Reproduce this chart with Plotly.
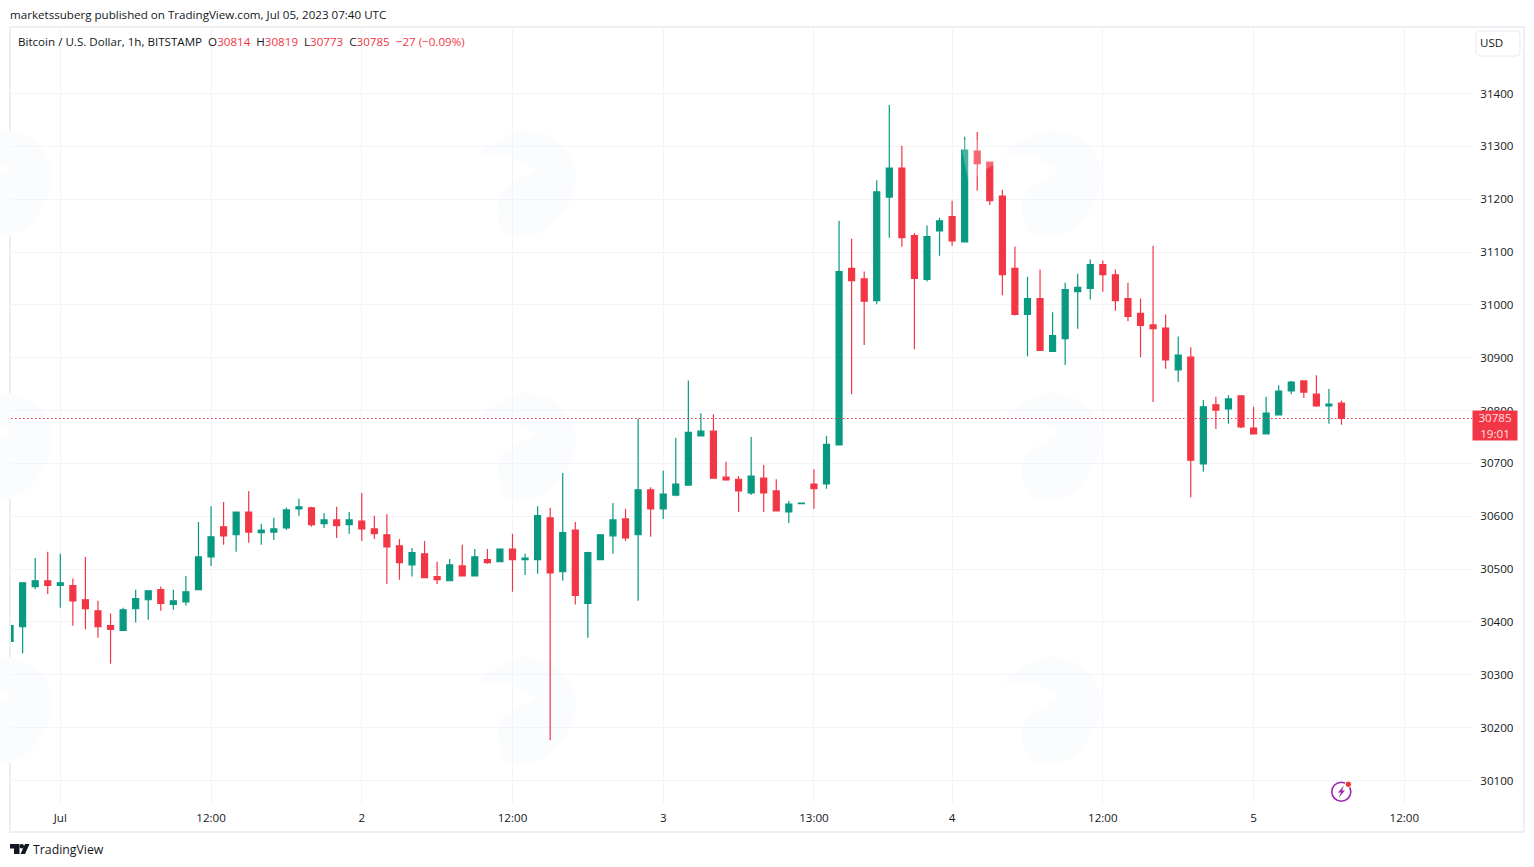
import plotly.graph_objects as go

# ---- Bars, Jul 1 00:00 is bar 0 ----
bars = list(range(-4, 103))
opens = [30363, 30391, 30467, 30478, 30469, 30469, 30442, 30421, 30393, 30384, 30425, 30442, 30461, 30433, 30438, 30461,
         30523, 30580, 30565, 30608, 30569, 30570, 30578, 30614, 30616, 30586, 30593, 30584, 30591, 30576, 30565, 30544,
         30508, 30529, 30486, 30478, 30506, 30487, 30518, 30514, 30538, 30518, 30518, 30597, 30495, 30574, 30435, 30518,
         30563, 30595, 30565, 30650, 30614, 30640, 30659, 30752, 30761, 30674, 30670, 30644, 30672, 30648, 30608, 30624,
         30661, 30661, 30735, 31069, 31049, 31008, 31204, 31259, 31131, 31048, 31140, 31167, 31119, 31291, 31270, 31206,
         31069, 30982, 31012, 30912, 30936, 31025, 31031, 31076, 31057, 31012, 30984, 30962, 30956, 30877, 30901, 30699,
         30811, 30803, 30828, 30767, 30756, 30792, 30837, 30856, 30831, 30809, 30814]
highs = [30393, 30474, 30521, 30533, 30529, 30482, 30523, 30440, 30416, 30427, 30461, 30459, 30467, 30461, 30487, 30589,
         30619, 30627, 30608, 30648, 30586, 30597, 30616, 30633, 30618, 30606, 30618, 30608, 30644, 30601, 30604, 30557,
         30540, 30553, 30514, 30519, 30546, 30538, 30538, 30538, 30567, 30529, 30619, 30616, 30682, 30589, 30533, 30565,
         30625, 30614, 30785, 30655, 30686, 30748, 30857, 30795, 30793, 30703, 30676, 30750, 30697, 30670, 30629, 30625,
         30689, 30752, 31159, 31125, 31063, 31236, 31378, 31301, 31136, 31150, 31165, 31197, 31318, 31327, 31270, 31218,
         31110, 31053, 31067, 30986, 31042, 31059, 31086, 31084, 31067, 31042, 31012, 31112, 30982, 30940, 30920, 30820,
         30826, 30829, 30829, 30807, 30826, 30848, 30856, 30856, 30867, 30841, 30819]
lows = [30363, 30341, 30462, 30453, 30427, 30393, 30386, 30370, 30321, 30384, 30399, 30404, 30421, 30423, 30431, 30461,
        30506, 30546, 30533, 30550, 30546, 30555, 30574, 30601, 30580, 30578, 30559, 30567, 30553, 30557, 30472, 30480,
        30486, 30484, 30472, 30478, 30487, 30487, 30510, 30514, 30457, 30489, 30491, 30176, 30478, 30433, 30370, 30518,
        30529, 30553, 30440, 30561, 30595, 30638, 30659, 30752, 30672, 30667, 30608, 30640, 30608, 30610, 30587, 30624,
        30614, 30652, 30735, 30831, 30924, 31001, 31127, 31110, 30916, 31044, 31093, 31112, 31119, 31216, 31189, 31018,
        30980, 30903, 30914, 30912, 30886, 30955, 31010, 31025, 30989, 30969, 30901, 30816, 30879, 30854, 30636, 30684,
        30765, 30775, 30767, 30756, 30756, 30792, 30831, 30824, 30807, 30775, 30773]
closes = [30393, 30474, 30478, 30469, 30474, 30440, 30425, 30391, 30386, 30423, 30444, 30459, 30435, 30440, 30457, 30523,
          30561, 30563, 30608, 30570, 30574, 30576, 30612, 30618, 30584, 30593, 30582, 30593, 30576, 30567, 30542, 30512,
          30531, 30484, 30480, 30508, 30487, 30523, 30512, 30538, 30518, 30521, 30601, 30493, 30569, 30450, 30531, 30565,
          30593, 30559, 30650, 30614, 30642, 30661, 30759, 30761, 30672, 30669, 30648, 30676, 30644, 30610, 30623, 30625,
          30652, 30736, 31063, 31046, 31007, 31214, 31259, 31127, 31050, 31129, 31159, 31121, 31293, 31267, 31197, 31057,
          30982, 31012, 30914, 30942, 31029, 31033, 31076, 31057, 31008, 30978, 30961, 30955, 30896, 30905, 30706, 30807,
          30801, 30822, 30769, 30756, 30795, 30837, 30854, 30835, 30809, 30812, 30785]

price_ticks = list(range(30100, 31500, 100))
time_ticks = [0, 12, 24, 36, 48, 60, 71, 83, 95, 107]
time_labels = ["Jul", "12:00", "2", "12:00", "3", "13:00", "4", "12:00", "5", "12:00"]
last_price = 30785

UP = "#089981"
DOWN = "#f23645"
GRID = "#f2f4f9"
INK = "#131722"
FONT = "Open Sans, sans-serif"
TEXT_SIZE = 11.6

W, H = 1534, 867
L, R, T, B = 11, 1472, 28, 803


def px(x):
    return (x - L) / (R - L)


def py(y):
    return (B - y) / (B - T)


def path(points):
    """Closed path from page pixels, (x, y) or ("Q", cx, cy, x, y)."""
    out = []
    for i, p in enumerate(points):
        if p[0] == "Q":
            out.append(f"Q {px(p[1]):.5f},{py(p[2]):.5f} {px(p[3]):.5f},{py(p[4]):.5f}")
        else:
            out.append(f"{'M' if i == 0 else 'L'} {px(p[0]):.5f},{py(p[1]):.5f}")
    return " ".join(out) + " Z"


def shape(d, fill, layer="below", line=None, opacity=1):
    return dict(type="path", path=d, xref="paper", yref="paper", fillcolor=fill, layer=layer, opacity=opacity,
                line=line or dict(width=0))


def rect(x0, y0, x1, y1, **kw):
    return dict(type="rect", xref="paper", yref="paper", x0=px(x0), x1=px(x1), y0=py(y0), y1=py(y1), **kw)


def circle(cx, cy, r, **kw):
    return dict(type="circle", xref="paper", yref="paper", x0=px(cx - r), x1=px(cx + r), y0=py(cy + r), y1=py(cy - r), **kw)


def note(x, y, text, size=TEXT_SIZE, color=INK, **kw):
    return dict(xref="paper", yref="paper", x=px(x), y=py(y), text=text, showarrow=False, xanchor=kw.pop("xanchor", "left"),
                yanchor="middle", font=dict(family=FONT, size=size, color=color), **kw)


def watermark(x, y):
    return path([(x + 45, y), ("Q", x + 85, y, x + 98, y + 35), ("Q", x + 105, y + 70, x + 70, y + 100),
                 ("Q", x + 40, y + 115, x + 25, y + 100), ("Q", x + 15, y + 80, x + 25, y + 60),
                 (x + 58, y + 40), (x + 30, y + 25), (x, y + 25), ("Q", x + 25, y + 5, x + 45, y)])


usd_box = [(1480, 31), (1516, 31), ("Q", 1520, 31, 1520, 35), (1520, 52), ("Q", 1520, 56, 1516, 56),
           (1480, 56), ("Q", 1476, 56, 1476, 52), (1476, 35), ("Q", 1476, 31, 1480, 31)]

shapes = [
    rect(10, 27, 1524, 832, line=dict(color="#eeeff2", width=2), layer="below"),
    shape(path(usd_box), "white", layer="above", line=dict(color="#e8eaf0", width=1)),
    # logo
    shape(path([(10, 844), (19.5, 844), (19.5, 854), (14, 854), (14, 848.5), (10, 848.5)]), INK),
    circle(21.8, 846.2, 2.2, fillcolor=INK, line=dict(width=0)),
    shape(path([(25, 844), (29.5, 844), (25, 854), (20.5, 854)]), INK),
    # bolt icon
    circle(1341.3, 791.7, 9.5, line=dict(color="#9c27b0", width=1.6), fillcolor="white", layer="above"),
    shape(path([(1344, 785.5), (1338, 792.5), (1341, 792.5), (1338.5, 798), (1345, 790.5), (1342, 790.5)]), "#9c27b0", layer="above"),
    circle(1348.3, 784.3, 3.2, line=dict(color="white", width=1), fillcolor="#e53935", layer="above"),
    # last price line
    dict(type="line", xref="paper", yref="y", x0=0, x1=1, y0=last_price, y1=last_price,
         line=dict(color=DOWN, width=1.2, dash="1.5px,2.5px")),
    # watermark washes over the candles near the top
    shape(path([(960, 140), (1000, 140), (1000, 161), (985, 170), (973, 180), (968, 180)]), "white", layer="above", opacity=0.25),
]
for wx in (-47, 477, 1002):
    for wy in (130, 393, 657):
        shapes.append(shape(watermark(wx, wy), "#fbfcfe"))

ohlc_text = (
    "Bitcoin / U.S. Dollar, 1h, BITSTAMP&nbsp;&nbsp;"
    f"O<span style='color:{DOWN}'>30814</span>&nbsp;&nbsp;"
    f"H<span style='color:{DOWN}'>30819</span>&nbsp;&nbsp;"
    f"L<span style='color:{DOWN}'>30773</span>&nbsp;&nbsp;"
    f"C<span style='color:{DOWN}'>30785</span>&nbsp;&nbsp;"
    f"<span style='color:{DOWN}'>−27 (−0.09%)</span>"
)

annotations = [
    note(8, 14.5, "marketssuberg published on TradingView.com, Jul 05, 2023 07:40 UTC"),
    note(16, 41.5, ohlc_text),
    note(1478, 42.5, "USD"),
    note(31, 849.5, "TradingView", size=12.3),
    note(1494.5, 425.5, "30785<br>19:01", color="rgba(255,255,255,0.88)", xanchor="center", bgcolor=DOWN,
         width=44, height=29, align="center", borderpad=0),
]

fig = go.Figure(go.Candlestick(
    x=bars, open=opens, high=highs, low=lows, close=closes,
    increasing=dict(line=dict(color=UP, width=1.2), fillcolor=UP),
    decreasing=dict(line=dict(color=DOWN, width=1.2), fillcolor=DOWN),
    showlegend=False,
))

fig.update_layout(
    width=W, height=H,
    margin=dict(l=L, r=W - R, t=T, b=H - B, pad=0),
    paper_bgcolor="white", plot_bgcolor="white",
    font=dict(family=FONT, size=TEXT_SIZE, color=INK),
    boxgap=0.32,
    xaxis=dict(
        range=[-3.925, 112.39], rangeslider=dict(visible=False),
        tickmode="array", tickvals=time_ticks, ticktext=time_labels,
        showgrid=True, gridcolor=GRID, gridwidth=1, zeroline=False, showline=False,
        ticks="outside", ticklen=4, tickcolor="white",
    ),
    yaxis=dict(
        range=[30057.4, 31523.9], side="right",
        tickmode="array", tickvals=price_ticks, ticktext=[str(p) for p in price_ticks],
        showgrid=True, gridcolor=GRID, gridwidth=1, zeroline=False, showline=False,
        ticks="outside", ticklen=5, tickcolor="white",
    ),
    shapes=shapes,
    annotations=annotations,
)

fig.write_html("out.html", config=dict(displayModeBar=False),
               post_script="document.body.style.margin='0';document.body.style.overflow='hidden';")
